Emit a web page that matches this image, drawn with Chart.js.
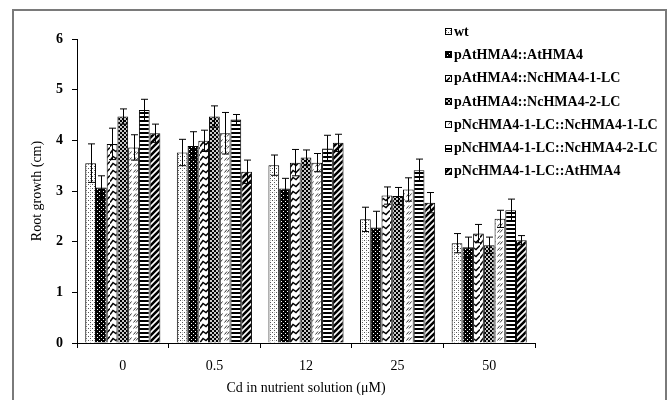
<!DOCTYPE html>
<html>
<head>
<meta charset="utf-8">
<script src="https://cdn.jsdelivr.net/npm/chart.js@4/dist/chart.umd.min.js"></script>
<style>
  html, body { margin: 0; padding: 0; background: #fff; }
  #wrap { position: relative; width: 669px; height: 400px; }
</style>
</head>
<body>
<div id="wrap"><canvas id="chart" width="669" height="400"></canvas></div>
<script>
// ── Data ──────────────────────────────────────────────────────────────────────
const CATEGORIES = ['0', '0.5', '12', '25', '50'];
const SERIES_LABELS = [
  'wt',
  'pAtHMA4::AtHMA4',
  'pAtHMA4::NcHMA4-1-LC',
  'pAtHMA4::NcHMA4-2-LC',
  'pNcHMA4-1-LC::NcHMA4-1-LC',
  'pNcHMA4-1-LC::NcHMA4-2-LC',
  'pNcHMA4-1-LC::AtHMA4',
];
const WT          = [3.55, 3.76, 3.51, 2.44, 1.97];
const AT_AT       = [3.07, 3.89, 3.05, 2.28, 1.89];
const AT_NC1      = [3.93, 3.99, 3.56, 2.91, 2.16];
const AT_NC2      = [4.47, 4.47, 3.66, 2.90, 1.93];
const NC_NC1      = [3.86, 4.14, 3.56, 3.03, 2.45];
const NC_NC2      = [4.60, 4.41, 3.84, 3.41, 2.62];
const NC_AT       = [4.14, 3.38, 3.95, 2.77, 2.03];

const WT_ERR      = [0.38, 0.26, 0.20, 0.24, 0.19];
const AT_AT_ERR   = [0.23, 0.28, 0.20, 0.32, 0.20];
const AT_NC1_ERR  = [0.31, 0.21, 0.26, 0.17, 0.18];
const AT_NC2_ERR  = [0.15, 0.21, 0.15, 0.17, 0.16];
const NC_NC1_ERR  = [0.25, 0.41, 0.18, 0.23, 0.17];
const NC_NC2_ERR  = [0.21, 0.10, 0.26, 0.22, 0.22];
const NC_AT_ERR   = [0.18, 0.23, 0.17, 0.20, 0.09];

const Y_TICKS = [0, 1, 2, 3, 4, 5, 6];

const VALUES = [WT, AT_AT, AT_NC1, AT_NC2, NC_NC1, NC_NC2, NC_AT];
const ERRORS = [WT_ERR, AT_AT_ERR, AT_NC1_ERR, AT_NC2_ERR, NC_NC1_ERR, NC_NC2_ERR, NC_AT_ERR];

const SERIF = "'Liberation Serif', 'Times New Roman', serif";

// ── Hatch patterns ────────────────────────────────────────────────────────────
function tile(w, h, draw) {
  const c = document.createElement('canvas');
  c.width = w; c.height = h;
  const g = c.getContext('2d');
  g.fillStyle = '#fff';
  g.fillRect(0, 0, w, h);
  draw(g);
  return document.getElementById('chart').getContext('2d').createPattern(c, 'repeat');
}

const PATTERNS = [
  // wt: light stipple
  tile(4, 4, g => { g.fillStyle = '#555'; g.fillRect(0, 0, 1, 1); g.fillRect(2, 2, 1, 1); g.fillStyle = '#bbb'; g.fillRect(2, 0, 1, 1); }),
  // pAtHMA4::AtHMA4: black with white dots
  tile(4, 4, g => { g.fillStyle = '#000'; g.fillRect(0, 0, 4, 4); g.fillStyle = '#fff'; g.fillRect(1, 1, 1, 1); g.fillRect(3, 3, 1, 1); }),
  // pAtHMA4::NcHMA4-1-LC: zigzag waves
  tile(10, 7, g => {
    g.strokeStyle = '#000'; g.lineWidth = 1.5;
    g.beginPath(); g.moveTo(0, 6.5); g.lineTo(3, 2.5); g.lineTo(6, 4.5); g.lineTo(10, 0.5); g.stroke();
  }),
  // pAtHMA4::NcHMA4-2-LC: checker
  tile(4, 4, g => { g.fillStyle = '#c8c8c8'; g.fillRect(0, 0, 4, 4); g.fillStyle = '#000'; g.fillRect(0, 0, 2, 2); g.fillRect(2, 2, 2, 2); }),
  // pNcHMA4-1-LC::NcHMA4-1-LC: short slashes
  tile(7, 6, g => {
    g.strokeStyle = '#333'; g.lineWidth = 1;
    g.beginPath(); g.moveTo(0.5, 4.5); g.lineTo(3, 1.5); g.moveTo(3, 4.5); g.lineTo(5.5, 1.5); g.stroke();
  }),
  // pNcHMA4-1-LC::NcHMA4-2-LC: horizontal stripes
  tile(4, 4, g => { g.fillStyle = '#000'; g.fillRect(0, 0, 4, 2); }),
  // pNcHMA4-1-LC::AtHMA4: wide diagonal stripes
  tile(6, 6, g => {
    g.strokeStyle = '#000'; g.lineWidth = 2.6;
    g.beginPath();
    g.moveTo(-1, 7); g.lineTo(7, -1);
    g.moveTo(-4, 4); g.lineTo(4, -4);
    g.moveTo(2, 10); g.lineTo(10, 2);
    g.stroke();
  }),
];

// ── Plugins ───────────────────────────────────────────────────────────────────
const framePlugin = {
  id: 'frame',
  beforeDraw(chart) {
    const ctx = chart.ctx;
    ctx.save();
    ctx.fillStyle = '#fff';
    ctx.fillRect(0, 0, chart.width, chart.height);
    ctx.strokeStyle = '#7a7a7a';
    ctx.lineWidth = 2;
    ctx.strokeRect(13, 10, 653, 400);
    ctx.restore();
  },
};

const errorBarPlugin = {
  id: 'errorBars',
  afterDatasetsDraw(chart) {
    const ctx = chart.ctx;
    const y = chart.scales.y;
    ctx.save();
    ctx.strokeStyle = '#000';
    ctx.lineWidth = 1;
    chart.data.datasets.forEach((ds, i) => {
      chart.getDatasetMeta(i).data.forEach((bar, j) => {
        const v = ds.data[j], e = ds.errors[j];
        const x = Math.round(bar.x) + 0.5;
        const top = y.getPixelForValue(v + e), bot = y.getPixelForValue(v - e);
        ctx.beginPath();
        ctx.moveTo(x, top); ctx.lineTo(x, bot);
        ctx.moveTo(x - 3.5, top); ctx.lineTo(x + 3.5, top);
        ctx.moveTo(x - 3.5, bot); ctx.lineTo(x + 3.5, bot);
        ctx.stroke();
      });
    });
    ctx.restore();
  },
};

const legendPlugin = {
  id: 'boxLegend',
  afterDraw(chart) {
    const ctx = chart.ctx;
    ctx.save();
    ctx.font = `bold 14px ${SERIF}`;
    ctx.textBaseline = 'middle';
    chart.data.datasets.forEach((ds, i) => {
      const cy = 32 + i * 23.3;
      ctx.fillStyle = ds.backgroundColor;
      ctx.fillRect(445, Math.round(cy) - 4, 7, 7);
      ctx.strokeStyle = '#000';
      ctx.lineWidth = 1;
      ctx.strokeRect(445.5, Math.round(cy) - 3.5, 6, 6);
      ctx.fillStyle = '#000';
      ctx.fillText(ds.label, 454, cy);
    });
    ctx.restore();
  },
};

// ── Chart ─────────────────────────────────────────────────────────────────────
new Chart(document.getElementById('chart'), {
  type: 'bar',
  data: {
    labels: CATEGORIES,
    datasets: SERIES_LABELS.map((label, i) => ({
      label,
      data: VALUES[i],
      errors: ERRORS[i],
      backgroundColor: PATTERNS[i],
      borderColor: '#000',
      borderWidth: 1,
      barPercentage: 1.0,
      categoryPercentage: 0.82,
    })),
  },
  options: {
    responsive: false,
    devicePixelRatio: 1,
    animation: false,
    layout: { padding: { left: 0, top: 39, right: 134, bottom: 0 } },
    plugins: { legend: { display: false }, tooltip: { enabled: false } },
    scales: {
      x: {
        grid: { display: true, drawOnChartArea: false, drawTicks: true, tickLength: 5, offset: true, color: '#000' },
        border: { display: true, color: '#000', width: 1 },
        ticks: { color: '#000', padding: 10, font: { family: SERIF, size: 14 } },
        title: { display: true, text: 'Cd in nutrient solution (μM)', color: '#000', padding: { top: 0, bottom: 3 }, font: { family: SERIF, size: 14 } },
        afterFit: s => { s.height = 57; },
      },
      y: {
        min: 0, max: 6,
        afterBuildTicks: s => { s.ticks = Y_TICKS.map(v => ({ value: v })); },
        grid: { display: true, drawOnChartArea: false, drawTicks: true, tickLength: 5, color: '#000' },
        border: { display: true, color: '#000', width: 1 },
        ticks: { color: '#000', padding: 9, font: { family: SERIF, size: 14, weight: 'bold' } },
        title: { display: true, text: 'Root growth (cm)', color: '#000', padding: { top: 29, bottom: 0 }, font: { family: SERIF, size: 14 } },
        afterFit: s => { s.width = 77; },
      },
    },
  },
  plugins: [framePlugin, errorBarPlugin, legendPlugin],
});
</script>
</body>
</html>
